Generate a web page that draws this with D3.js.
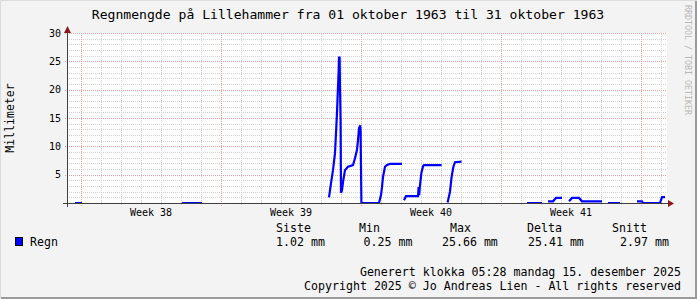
<!DOCTYPE html>
<html>
<head>
<meta charset="utf-8">
<script src="https://cdn.jsdelivr.net/npm/d3@7"></script>
<style>
  html, body { margin: 0; padding: 0; background: #f3f3f3; }
  svg { display: block; }
  text { font-family: "DejaVu Sans Mono", monospace; fill: #000; }
</style>
</head>
<body>
<div id="chart"></div>
<script>
// rain series, day offsets from the left edge of the graph (null = no data)
var rainDays = [0.4, 0.75, null,
  5.75, 6.75, null,
  13.1, 13.2, 13.3, 13.4, 13.45, 13.5, 13.55, 13.58, 13.6, 13.63, 13.65, 13.68, 13.7, 13.75, 13.8, 13.9,
  14.05, 14.3, 14.4, 14.5, 14.55, 14.6, 14.66, 14.68, 14.69, 14.72, 15.6, 15.7, 15.75, 15.8, 15.9, 16.0,
  16.15, 16.75, null,
  16.85, 16.95, 17.55, 17.58, 17.61, 17.64, 17.72, 17.8, 17.85, 18.73, null,
  19.03, 19.15, 19.23, 19.32, 19.4, 19.73, null,
  23.0, 23.75, null,
  24.05, 24.3, 24.45, 24.75, null,
  25.1, 25.25, 25.6, 25.75, 26.75, null,
  27.05, 27.65, null,
  28.5, 28.75, 28.8, 29.65, 29.75, 29.9];
var rainMm = [0, 0, null,
  0, 0, null,
  1.0, 3.5, 5.8, 8.8, 12.3, 16.0, 20.5, 23.0, 25.66, 25.66, 20.5, 14.6, 1.8, 2.2, 3.7, 5.8,
  6.4, 6.7, 7.9, 9.4, 11.1, 13.2, 13.7, 12.9, 9.4, 0, 0, 1.4, 2.8, 4.6, 6.4, 6.7,
  6.9, 6.9, null,
  0.5, 1.2, 1.2, 2.8, 1.4, 2.8, 5.3, 6.5, 6.7, 6.7, null,
  0.1, 2.0, 4.6, 6.4, 7.2, 7.3, null,
  0, 0, null,
  0.3, 0.3, 0.9, 0.9, null,
  0.3, 0.9, 0.9, 0.3, 0.3, null,
  0, 0, null,
  0.3, 0.3, 0, 0, 1.02, 1.02];

var weekStarts = [0.7, 7.7, 14.7, 21.7, 28.7];
var weekLabels = ["Week 38", "Week 39", "Week 40", "Week 41"];
var yTicks = [5, 10, 15, 20, 25, 30];

var legendHeaders = ["Siste", "Min", "Max", "Delta", "Snitt"];
var legendValues = ["1.02 mm", "0.25 mm", "25.66 mm", "25.41 mm", "2.97 mm"];

var W = 697, H = 299;
var svg = d3.select("#chart").append("svg")
    .attr("width", W)
    .attr("height", H);

// background + 3d border
svg.append("rect").attr("width", W).attr("height", H).attr("fill", "#f3f3f3");
svg.append("path").attr("d", "M0.5," + (H - 0.5) + "V0.5H" + (W - 0.5))
    .attr("stroke", "#dcdcdc").attr("fill", "none");
svg.append("path").attr("d", "M" + (W - 1) + ",1V" + (H - 1) + "H1")
    .attr("stroke", "#9a9a9a").attr("stroke-width", 2).attr("fill", "none");

var x = d3.scaleLinear().domain([0, 30]).range([67, 667]);
var y = d3.scaleLinear().domain([0, 30]).range([203, 33]);
var px = function (v) { return Math.round(v) + 0.5; };

// canvas
svg.append("rect")
    .attr("x", x(0)).attr("y", y(30))
    .attr("width", x(30) - x(0)).attr("height", y(0) - y(30))
    .attr("fill", "#ffffff");

var grid = svg.append("g");
// minor grid
grid.selectAll(".hmin").data(d3.range(1, 31).filter(function (d) { return d % 5; }))
  .enter().append("line")
    .attr("x1", x(0)).attr("x2", x(30))
    .attr("y1", function (d) { return px(y(d)); }).attr("y2", function (d) { return px(y(d)); })
    .attr("stroke", "#d0d0d0").attr("stroke-dasharray", "1,1");
grid.selectAll(".vmin").data(d3.range(0.7, 30, 1).filter(function (d) { return Math.round(d - 0.7) % 7; }))
  .enter().append("line")
    .attr("x1", function (d) { return px(x(d)); }).attr("x2", function (d) { return px(x(d)); })
    .attr("y1", y(0) + 2).attr("y2", y(30))
    .attr("stroke", "#d0d0d0").attr("stroke-dasharray", "1,1");
// major grid
grid.selectAll(".hmaj").data(yTicks)
  .enter().append("line")
    .attr("x1", x(0) - 2).attr("x2", x(30))
    .attr("y1", function (d) { return px(y(d)); }).attr("y2", function (d) { return px(y(d)); })
    .attr("stroke", "#e8a0a0").attr("stroke-dasharray", "1,1");
grid.selectAll(".vmaj").data(weekStarts)
  .enter().append("line")
    .attr("x1", function (d) { return px(x(d)); }).attr("x2", function (d) { return px(x(d)); })
    .attr("y1", y(0) + 3).attr("y2", y(30))
    .attr("stroke", "#e8a0a0").attr("stroke-dasharray", "1,1");

// rain line
var line = d3.line()
    .defined(function (d) { return d[1] != null; })
    .x(function (d) { return x(d[0]); })
    .y(function (d) { return y(d[1]); });
svg.append("path")
    .datum(rainDays.map(function (d, i) { return [d, rainMm[i]]; }))
    .attr("d", line)
    .attr("fill", "none")
    .attr("stroke", "#0000ff")
    .attr("stroke-width", 2.2);

// axes
svg.append("line")
    .attr("x1", x(0) - 4).attr("x2", x(30) + 1)
    .attr("y1", px(y(0))).attr("y2", px(y(0)))
    .attr("stroke", "#404040");
svg.append("line")
    .attr("x1", px(x(0))).attr("x2", px(x(0)))
    .attr("y1", y(0) + 4).attr("y2", y(30) - 2)
    .attr("stroke", "#404040");
svg.append("path")
    .attr("d", "M" + (x(30) + 1) + "," + (y(0) - 3) + "l6,3.5l-6,3.5z")
    .attr("fill", "#8b1a1a");
svg.append("path")
    .attr("d", "M" + (x(0) - 3) + "," + (y(30)) + "l3.5,-7l3.5,7z")
    .attr("fill", "#8b1a1a");

// tick labels
svg.selectAll(".ylab").data(yTicks)
  .enter().append("text")
    .attr("x", 61).attr("y", function (d) { return y(d) + 3.5; })
    .attr("text-anchor", "end")
    .style("font-size", "10px")
    .text(function (d) { return d; });
svg.selectAll(".xlab").data(weekLabels)
  .enter().append("text")
    .attr("x", function (d, i) { return x(weekStarts[i] + 3.5); })
    .attr("y", 216)
    .attr("text-anchor", "middle")
    .style("font-size", "10px")
    .text(function (d) { return d; });

// titles
svg.append("text")
    .attr("x", 348).attr("y", 18.5)
    .attr("text-anchor", "middle")
    .style("font-size", "13.1px")
    .text("Regnmengde på Lillehammer fra 01 oktober 1963 til 31 oktober 1963");
svg.append("text")
    .attr("transform", "translate(14,118) rotate(-90)")
    .attr("text-anchor", "middle")
    .style("font-size", "11.5px")
    .text("Millimeter");
svg.append("text")
    .attr("transform", "translate(685,5) rotate(90)")
    .style("font-size", "8.3px")
    .style("fill", "#b8b8b8")
    .text("RRDTOOL / TOBI OETIKER");

// legend
var headX = [276, 359, 450, 527, 612];
var valX = [276, 363.5, 442, 528, 620];
svg.selectAll(".lh").data(legendHeaders)
  .enter().append("text")
    .attr("x", function (d, i) { return headX[i]; }).attr("y", 232)
    .style("font-size", "11.6px")
    .text(function (d) { return d; });
svg.selectAll(".lv").data(legendValues)
  .enter().append("text")
    .attr("x", function (d, i) { return valX[i]; }).attr("y", 246)
    .style("font-size", "11.6px")
    .text(function (d) { return d; });
svg.append("rect")
    .attr("x", 15.5).attr("y", 237.5).attr("width", 7).attr("height", 8)
    .attr("fill", "#0000ff").attr("stroke", "#000").attr("stroke-width", 1);
svg.append("text")
    .attr("x", 30).attr("y", 246)
    .style("font-size", "11.6px")
    .text("Regn");

svg.append("text")
    .attr("x", 681).attr("y", 276)
    .attr("text-anchor", "end")
    .style("font-size", "11.6px")
    .text("Generert klokka 05:28 mandag 15. desember 2025");
svg.append("text")
    .attr("x", 681).attr("y", 290)
    .attr("text-anchor", "end")
    .style("font-size", "11.6px")
    .text("Copyright 2025 © Jo Andreas Lien - All rights reserved");
</script>
</body>
</html>
